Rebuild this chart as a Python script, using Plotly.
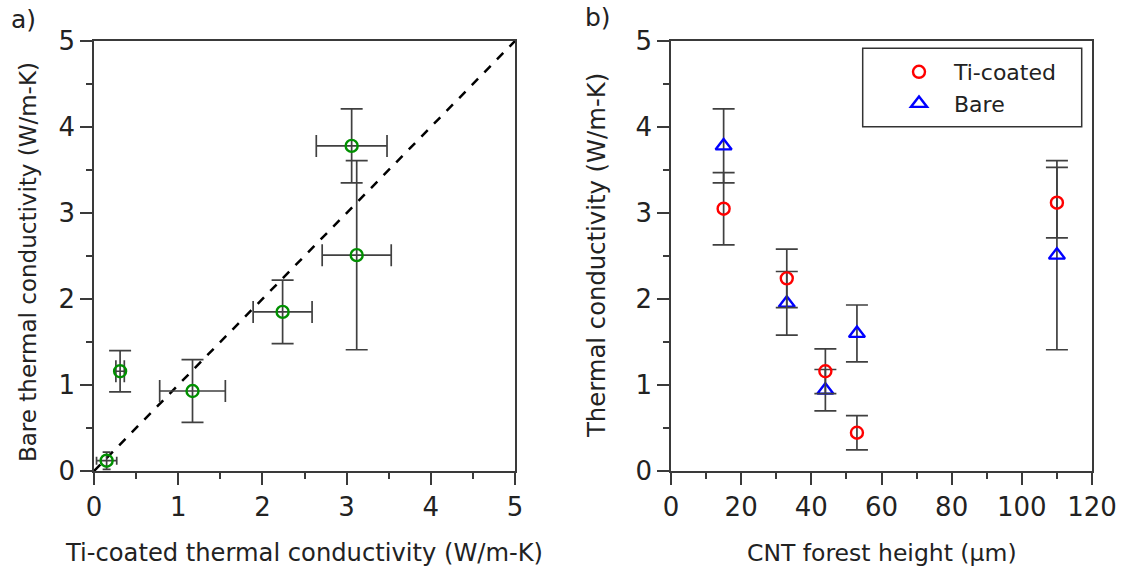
import plotly.graph_objects as go

W, H = 1122, 573

# ---- Panel a data: Ti-coated vs Bare thermal conductivity ----
a_ti = [0.15, 0.31, 1.17, 2.24, 3.06, 3.12]
a_ti_err = [0.12, 0.05, 0.39, 0.35, 0.42, 0.41]
a_bare = [0.12, 1.16, 0.93, 1.85, 3.78, 2.51]
a_bare_err = [0.10, 0.24, 0.365, 0.37, 0.43, 1.10]
diag = [0, 5]

# ---- Panel b data: conductivity vs CNT forest height ----
heights = [15, 33, 44, 53, 110]
ti_k = [3.05, 2.24, 1.16, 0.445, 3.12]
ti_err = [0.42, 0.34, 0.26, 0.20, 0.41]
bare_k = [3.78, 1.95, 0.94, 1.60, 2.51]
bare_err = [0.43, 0.37, 0.24, 0.33, 1.10]

FONT = "DejaVu Sans"
AX = "#3a3a3a"


def err(width):
    return dict(color="#404040", thickness=1.7, width=width)


fig = go.Figure()

fig.add_trace(go.Scatter(x=diag, y=diag, mode="lines", xaxis="x", yaxis="y",
                         line=dict(color="black", width=2.5, dash="dash"),
                         showlegend=False, hoverinfo="skip"))
# smallest point has tiny caps, the rest use regular caps
for sl, cw in ((slice(0, 1), 4), (slice(1, None), 11)):
    fig.add_trace(go.Scatter(
        x=a_ti[sl], y=a_bare[sl], mode="markers", xaxis="x", yaxis="y", showlegend=False,
        error_x=dict(type="data", array=a_ti_err[sl], **err(cw)),
        error_y=dict(type="data", array=a_bare_err[sl], **err(cw)),
        marker=dict(symbol="circle-open", size=12, color="#009000", line=dict(width=2.4))))

fig.add_trace(go.Scatter(
    x=heights, y=bare_k, mode="markers", xaxis="x2", yaxis="y2", name="Bare",
    error_y=dict(type="data", array=bare_err, **err(11)),
    marker=dict(symbol="triangle-up-open", size=14, color="#0000ff", line=dict(width=2.4))))
fig.add_trace(go.Scatter(
    x=heights, y=ti_k, mode="markers", xaxis="x2", yaxis="y2", name="Ti-coated",
    error_y=dict(type="data", array=ti_err, **err(11)),
    marker=dict(symbol="circle-open", size=12, color="#ff0000", line=dict(width=2.4))))

y0, y1 = 1 - 471 / H, 1 - 41 / H

common = dict(showline=True, linecolor=AX, linewidth=1.5, mirror=True,
              ticks="outside", ticklen=12, tickwidth=1.5, tickcolor=AX,
              showgrid=False, zeroline=False, automargin=False,
              tickfont=dict(family=FONT, size=26, color="#222"))
minor_y = dict(dtick=0.5, ticks="outside", ticklen=6, tickcolor=AX, tickwidth=1.5)

fig.update_layout(
    width=W, height=H,
    margin=dict(l=0, r=0, t=0, b=0, pad=0, autoexpand=False),
    paper_bgcolor="white", plot_bgcolor="white",
    font=dict(family=FONT, color="#222"),
    xaxis=dict(domain=[94 / W, 515 / W], range=[0, 5], dtick=1, anchor="y",
               minor=minor_y, **common),
    yaxis=dict(domain=[y0, y1], range=[0, 5], dtick=1, anchor="x",
               minor=minor_y, **common),
    xaxis2=dict(domain=[671 / W, 1092 / W], range=[0, 120], dtick=20, anchor="y2",
                minor=dict(dtick=10, ticks="outside", ticklen=6, tickcolor=AX, tickwidth=1.5),
                **common),
    yaxis2=dict(domain=[y0, y1], range=[0, 5], dtick=1, anchor="x2",
                minor=minor_y, **common),
    legend=dict(x=884 / W, xanchor="left", y=1 - 51 / H, yanchor="top",
                bgcolor="rgba(0,0,0,0)", borderwidth=0, itemwidth=60,
                traceorder="reversed",
                font=dict(family=FONT, size=22, color="#222")),
    showlegend=True,
    shapes=[dict(type="rect", xref="paper", yref="paper",
                 x0=862.7 / W, x1=1081.7 / W, y0=1 - 126.7 / H, y1=1 - 48.3 / H,
                 line=dict(color="#333", width=1.5), fillcolor="white", layer="below")],
)

ann = [
    dict(text="a)", x=23 / W, y=1 - 19 / H, font=dict(size=25)),
    dict(text="b)", x=598 / W, y=1 - 17 / H, font=dict(size=25)),
    dict(text="Ti-coated thermal conductivity (W/m-K)", x=304.5 / W, y=1 - 553 / H,
         font=dict(size=24.2)),
    dict(text="CNT forest height (µm)", x=881.5 / W, y=1 - 553 / H, font=dict(size=23.5)),
    dict(text="Bare thermal conductivity (W/m-K)", x=28 / W, y=1 - 262 / H,
         textangle=-90, font=dict(size=23)),
    dict(text="Thermal conductivity (W/m-K)", x=597 / W, y=1 - 256 / H,
         textangle=-90, font=dict(size=24.3)),
]
for a in ann:
    a.update(xref="paper", yref="paper", showarrow=False,
             xanchor="center", yanchor="middle")
    a["font"] = dict(family=FONT, color="#222", **a["font"])
fig.update_layout(annotations=ann)

fig.write_html("out.html")
